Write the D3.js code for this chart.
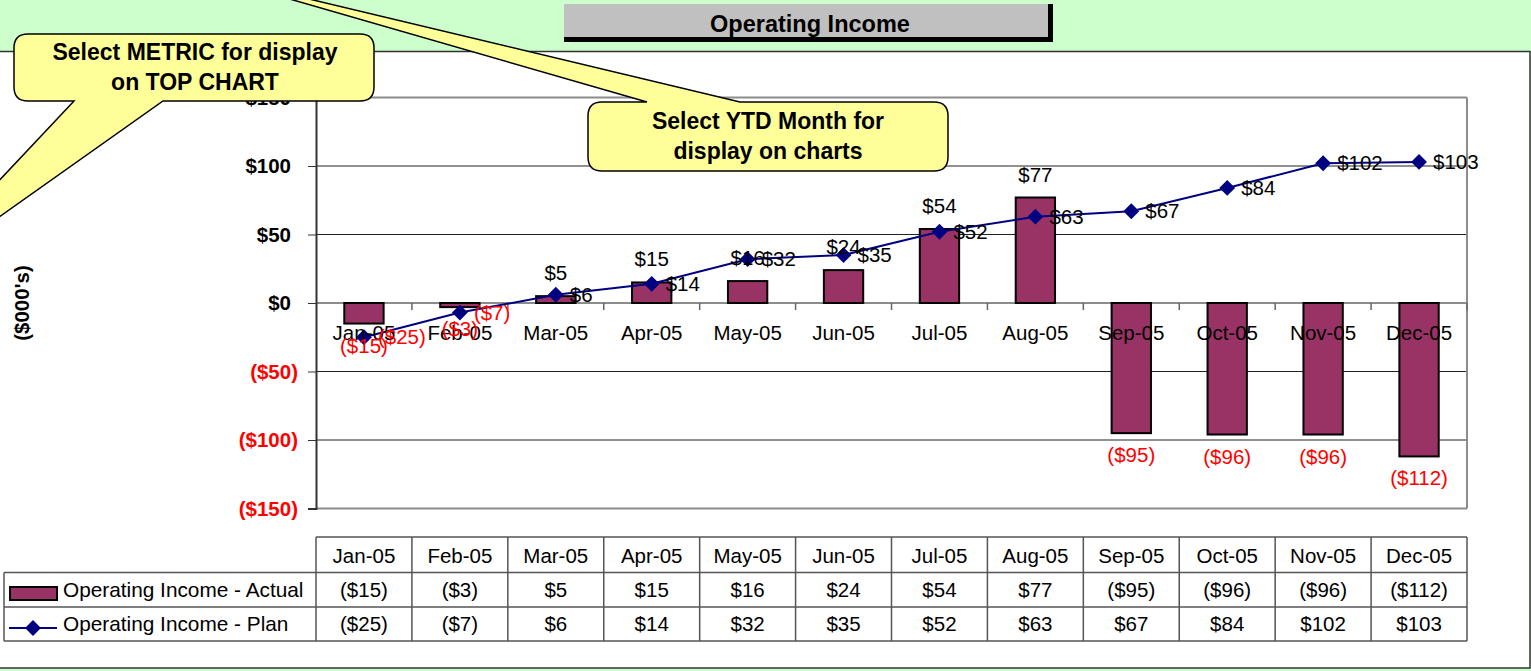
<!DOCTYPE html>
<html>
<head>
<meta charset="utf-8">
<script src="https://cdn.jsdelivr.net/npm/d3@7"></script>
<style>
  body { margin: 0; background: #ccffcc; }
  svg { display: block; font-family: Arial, "Liberation Sans", sans-serif; }
</style>
</head>
<body>
<div id="chart"></div>
<script>
// chart data
var months = ["Jan-05", "Feb-05", "Mar-05", "Apr-05", "May-05", "Jun-05", "Jul-05", "Aug-05", "Sep-05", "Oct-05", "Nov-05", "Dec-05"];
var actual = [-15, -3, 5, 15, 16, 24, 54, 77, -95, -96, -96, -112];
var plan = [-25, -7, 6, 14, 32, 35, 52, 63, 67, 84, 102, 103];
var yTicks = [-150, -100, -50, 0, 50, 100, 150];
var seriesNames = ["Operating Income - Actual", "Operating Income - Plan"];
var titleText = "Operating Income";
var axisTitle = "($000's)";
var callout1 = ["Select METRIC for display", "on TOP CHART"];
var callout2 = ["Select YTD Month for", "display on charts"];

var W = 1531, H = 671;
var plotL = 316, plotR = 1467, plotT = 97.5, plotB = 508.5;

function fmt(v) { return v < 0 ? "($" + (-v) + ")" : "$" + v; }
function col(v) { return v < 0 ? "#ff0000" : "#000"; }

var svg = d3.select("#chart").append("svg")
  .attr("width", W)
  .attr("height", H);

// green background + white panel
svg.append("rect").attr("width", W).attr("height", H).style("fill", "#ccffcc");
svg.append("rect")
  .attr("x", -3).attr("y", 51.5)
  .attr("width", 1533).attr("height", 616.5)
  .style("fill", "#fff").style("stroke", "#333").style("stroke-width", 1.5);

// title box with thick right/bottom edge
svg.append("rect").attr("x", 564).attr("y", 4).attr("width", 489).attr("height", 38).style("fill", "#000");
svg.append("rect").attr("x", 564).attr("y", 4).attr("width", 484).attr("height", 33).style("fill", "#c0c0c0");
svg.append("text")
  .attr("x", 810).attr("y", 32)
  .attr("text-anchor", "middle")
  .style("font-size", "23.5px").style("font-weight", "bold")
  .text(titleText);

var x = d3.scaleBand().domain(months).range([plotL, plotR]).padding(0);
var y = d3.scaleLinear().domain([-150, 150]).range([plotB, plotT]);
var bw = x.bandwidth() * 0.41;

var g = svg.append("g");

// gridlines
g.append("g")
  .selectAll("line")
  .data(yTicks)
  .enter().append("line")
  .attr("x1", plotL).attr("x2", plotR)
  .attr("y1", function(d) { return y(d); })
  .attr("y2", function(d) { return y(d); })
  .style("stroke", function(d) { return (d === 0 || Math.abs(d) === 150) ? "#8c8c8c" : "#222"; })
  .style("stroke-width", function(d) { return (d === 0 || Math.abs(d) === 150) ? 2 : 1; });

// right border
g.append("line")
  .attr("x1", plotR).attr("x2", plotR).attr("y1", plotT).attr("y2", plotB)
  .style("stroke", "#8c8c8c").style("stroke-width", 2);

// y axis
var yAxis = d3.axisLeft(y).tickValues(yTicks).tickSize(8).tickFormat(fmt);
var ya = g.append("g")
  .attr("transform", "translate(" + plotL + ",0)")
  .call(yAxis);
ya.select(".domain").style("stroke", "#333").style("stroke-width", 2);
ya.selectAll(".tick line").style("stroke", "#333");
ya.selectAll(".tick text")
  .attr("x", function(d) { return d < 0 ? -18 : -25; })
  .style("font-size", "20.5px").style("font-weight", "bold")
  .style("font-family", "Arial, 'Liberation Sans', sans-serif")
  .style("fill", col);

// x axis ticks at category boundaries
var bounds = months.map(function(m) { return x(m); }).concat([plotR]);
g.append("g")
  .selectAll("line")
  .data(bounds.slice(1))
  .enter().append("line")
  .attr("x1", function(d) { return d; }).attr("x2", function(d) { return d; })
  .attr("y1", y(0)).attr("y2", y(0) + 7)
  .style("stroke", "#666").style("stroke-width", 1.5);

// bars
g.append("g")
  .selectAll("rect")
  .data(actual)
  .enter().append("rect")
  .attr("x", function(d, i) { return x(months[i]) + x.bandwidth() / 2 - bw / 2; })
  .attr("y", function(d) { return y(Math.max(0, d)); })
  .attr("width", bw)
  .attr("height", function(d) { return Math.abs(y(d) - y(0)); })
  .style("fill", "#993366")
  .style("stroke", "#000")
  .style("stroke-width", 2);

// plan line
var cx = function(d, i) { return x(months[i]) + x.bandwidth() / 2; };
var line = d3.line()
  .x(cx)
  .y(function(d) { return y(d); });
g.append("path")
  .datum(plan)
  .attr("d", line)
  .style("fill", "none")
  .style("stroke", "#000080")
  .style("stroke-width", 2);

var diamond = d3.symbol().type(d3.symbolDiamond2).size(160);
g.append("g")
  .selectAll("path")
  .data(plan)
  .enter().append("path")
  .attr("d", diamond)
  .attr("transform", function(d, i) { return "translate(" + cx(d, i) + "," + y(d) + ")"; })
  .style("fill", "#000080");

// category labels
g.append("g")
  .selectAll("text")
  .data(months)
  .enter().append("text")
  .attr("x", function(d) { return x(d) + x.bandwidth() / 2; })
  .attr("y", y(0) + 37)
  .attr("text-anchor", "middle")
  .style("font-size", "20.5px")
  .text(function(d) { return d; });

// actual labels
g.append("g")
  .selectAll("text")
  .data(actual)
  .enter().append("text")
  .attr("x", cx)
  .attr("y", function(d) { return d < 0 ? y(d) + 29 : y(d) - 16; })
  .attr("text-anchor", "middle")
  .style("font-size", "20.5px")
  .style("fill", col)
  .text(fmt);

// plan labels
g.append("g")
  .selectAll("text")
  .data(plan)
  .enter().append("text")
  .attr("x", function(d, i) { return cx(d, i) + 14; })
  .attr("y", function(d) { return y(d) + 7; })
  .style("font-size", "20.5px")
  .style("fill", col)
  .text(fmt);

// axis title
svg.append("text")
  .attr("transform", "translate(29,303) rotate(-90)")
  .attr("text-anchor", "middle")
  .style("font-size", "20.5px").style("font-weight", "bold")
  .text(axisTitle);

// data table
var rowY = [537, 572.5, 607, 641];
var tbl = svg.append("g").style("stroke", "#555").style("stroke-width", 1.5);
tbl.append("line").attr("x1", plotL).attr("x2", plotR).attr("y1", rowY[0]).attr("y2", rowY[0]);
[1, 2, 3].forEach(function(k) {
  tbl.append("line").attr("x1", 4).attr("x2", plotR).attr("y1", rowY[k]).attr("y2", rowY[k]);
});
tbl.append("line").attr("x1", 4).attr("x2", 4).attr("y1", rowY[1]).attr("y2", rowY[3]);
tbl.selectAll(".vline")
  .data(months.map(function(m) { return x(m); }).concat([plotR]))
  .enter().append("line")
  .attr("class", "vline")
  .attr("x1", function(d) { return d; }).attr("x2", function(d) { return d; })
  .attr("y1", rowY[0]).attr("y2", rowY[3]);

svg.append("g").selectAll("text")
  .data(months)
  .enter().append("text")
  .attr("x", function(d) { return x(d) + x.bandwidth() / 2; })
  .attr("y", (rowY[0] + rowY[1]) / 2 + 8)
  .attr("text-anchor", "middle")
  .style("font-size", "20.5px")
  .text(function(d) { return d; });

[actual, plan].forEach(function(arr, k) {
  svg.append("g").selectAll("text")
    .data(arr)
    .enter().append("text")
    .attr("x", cx)
    .attr("y", (rowY[k + 1] + rowY[k + 2]) / 2 + 7)
    .attr("text-anchor", "middle")
    .style("font-size", "20.5px")
    .text(fmt);
});

// legend keys
svg.append("rect")
  .attr("x", 10).attr("y", 587).attr("width", 47).attr("height", 13)
  .style("fill", "#993366").style("stroke", "#000").style("stroke-width", 2);
svg.append("line")
  .attr("x1", 9).attr("x2", 57).attr("y1", 628).attr("y2", 628)
  .style("stroke", "#000080").style("stroke-width", 2);
svg.append("path")
  .attr("d", diamond)
  .attr("transform", "translate(33,628)")
  .style("fill", "#000080");
seriesNames.forEach(function(s, k) {
  svg.append("text")
    .attr("x", 63)
    .attr("y", (rowY[k + 1] + rowY[k + 2]) / 2 + 7)
    .style("font-size", "20.8px")
    .text(s);
});

// callouts
function calloutPath(x0, y0, x1, y1, r, side, b0, b1, tip) {
  var p = "M" + (x0 + r) + "," + y0;
  if (side === "top") p += "H" + b0 + "L" + tip[0] + "," + tip[1] + "L" + b1 + "," + y0;
  p += "H" + (x1 - r) + "Q" + x1 + "," + y0 + " " + x1 + "," + (y0 + r);
  p += "V" + (y1 - r) + "Q" + x1 + "," + y1 + " " + (x1 - r) + "," + y1;
  if (side === "bottom") p += "H" + b1 + "L" + tip[0] + "," + tip[1] + "L" + b0 + "," + y1;
  p += "H" + (x0 + r) + "Q" + x0 + "," + y1 + " " + x0 + "," + (y1 - r);
  p += "V" + (y0 + r) + "Q" + x0 + "," + y0 + " " + (x0 + r) + "," + y0 + "Z";
  return p;
}

var calls = [
  { path: calloutPath(14, 34, 374, 101, 14, "bottom", 74, 163, [-104, 290]), lines: callout1, cx: 195, y: 60 },
  { path: calloutPath(588, 102, 948, 171, 14, "top", 647, 740, [196, -28]), lines: callout2, cx: 768, y: 129 }
];
calls.forEach(function(c) {
  svg.append("path")
    .attr("d", c.path)
    .style("fill", "#ffff99")
    .style("stroke", "#000")
    .style("stroke-width", 1.5);
  c.lines.forEach(function(t, i) {
    svg.append("text")
      .attr("x", c.cx)
      .attr("y", c.y + i * 30)
      .attr("text-anchor", "middle")
      .style("font-size", "23px").style("font-weight", "bold")
      .text(t);
  });
});
</script>
</body>
</html>
